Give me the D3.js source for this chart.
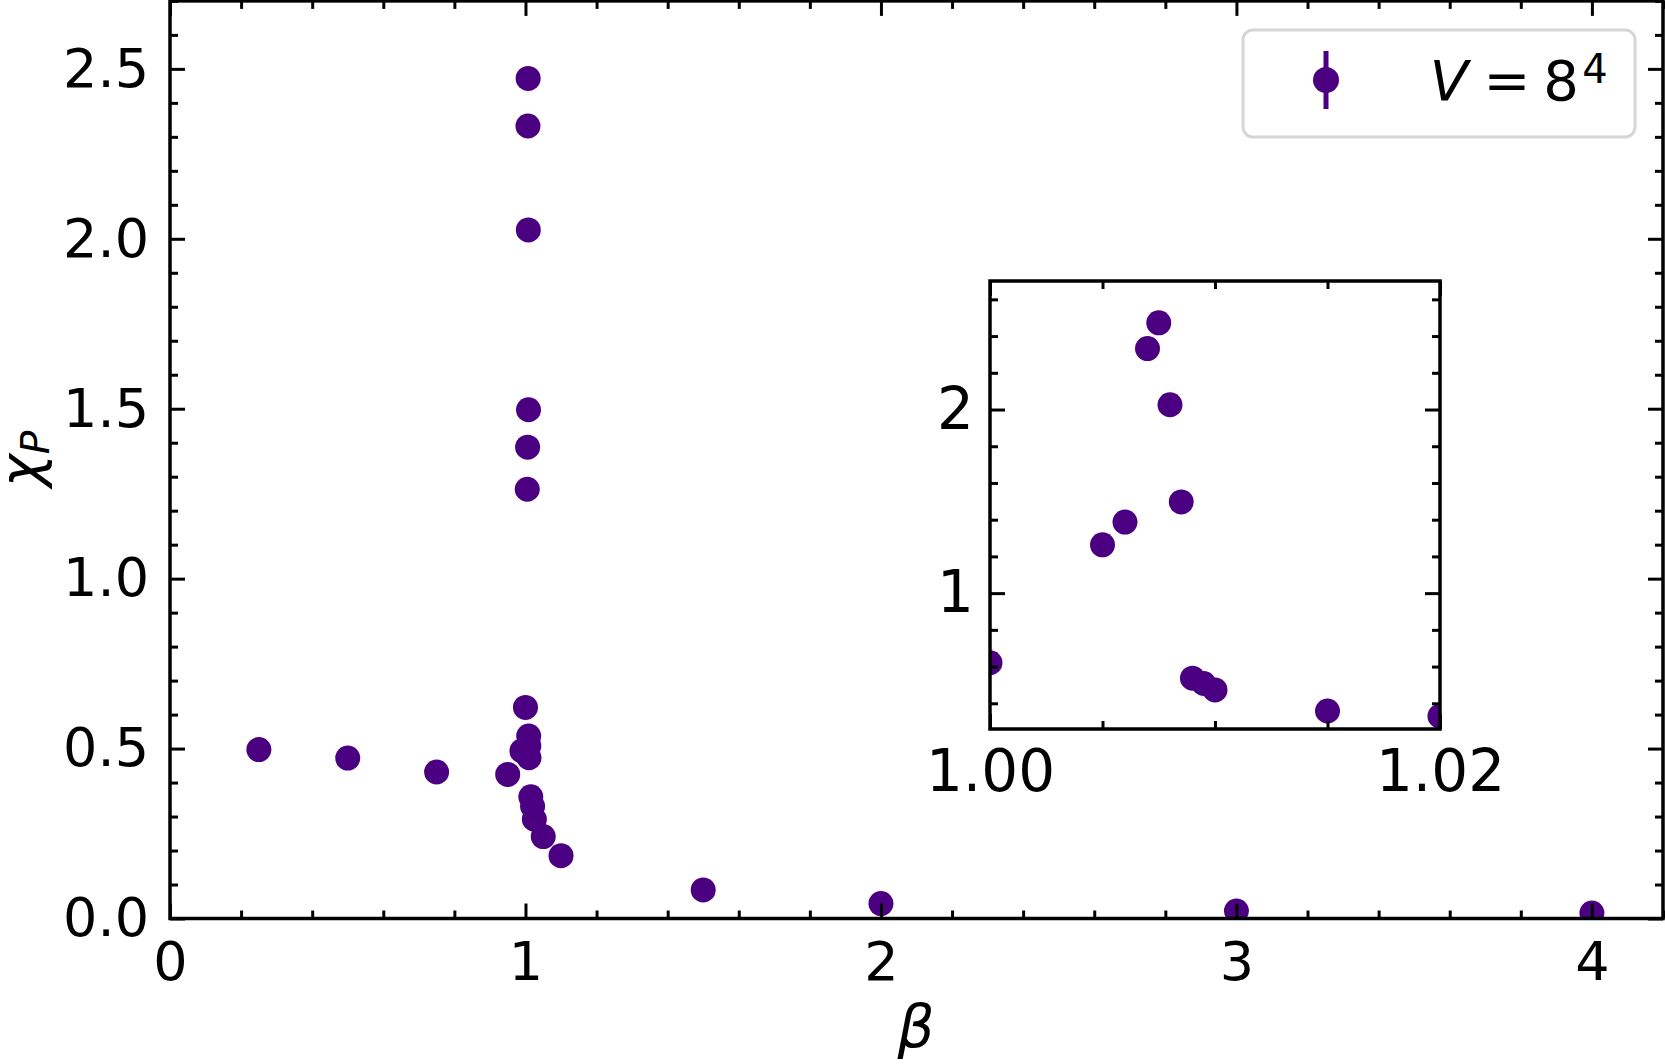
<!DOCTYPE html>
<html>
<head>
<meta charset="utf-8">
<script src="https://cdn.jsdelivr.net/npm/d3@7"></script>
<style>
  html, body { margin: 0; padding: 0; background: #fff; }
  svg { display: block; font-family: "DejaVu Sans", sans-serif; }
  .tick text { font-family: "DejaVu Sans", sans-serif; fill: #000; }
</style>
</head>
<body>
<div id="chart"></div>
<script>
// measured values, V = 8^4
const beta = [0.25, 0.5, 0.75, 0.95, 0.99, 1.00, 1.005, 1.006, 1.007, 1.0075, 1.008, 1.0085,
  1.009, 1.0095, 1.01, 1.015, 1.02, 1.025, 1.05, 1.10, 1.5, 2.0, 3.0, 4.0];
const chiP = [0.497, 0.472, 0.431, 0.424, 0.493, 0.621, 1.263, 1.387, 2.332, 2.472, 2.026, 1.497,
  0.537, 0.508, 0.473, 0.358, 0.330, 0.292, 0.241, 0.185, 0.084, 0.044, 0.022, 0.016];

const xTicks = [0, 1, 2, 3, 4];
const yTicks = [0, 0.5, 1.0, 1.5, 2.0, 2.5];
const yTickLabels = ["0.0", "0.5", "1.0", "1.5", "2.0", "2.5"];
const insetXTicks = [1.00, 1.02];
const insetXTickLabels = ["1.00", "1.02"];
const insetYTicks = [1, 2];

const color = "#4b0082";
const W = 1665, H = 1064;

const data = beta.map((b, i) => ({ beta: b, chi: chiP[i] }));

const svg = d3.select("#chart").append("svg")
  .attr("width", W).attr("height", H);

// main axes
const x = d3.scaleLinear().domain([0, 4.2]).range([170, 1663]);
const y = d3.scaleLinear().domain([0, 2.7]).range([918.5, 0.9]);

function minorOf(lo, hi, start, step, majors) {
  return d3.range(start, hi + step / 2, step)
    .map(v => +v.toFixed(6))
    .filter(v => v >= lo - 1e-9 && v <= hi + 1e-9)
    .filter(v => !majors.some(m => Math.abs(m - v) < 1e-9));
}

function drawFrame(g, xs, ys, opt) {
  const [x0, x1] = xs.range();
  const [y0, y1] = ys.range();
  const [xd0, xd1] = xs.domain();
  const [yd0, yd1] = ys.domain();
  const xMinor = minorOf(xd0, xd1, xd0, opt.xMinorStep, opt.xMajor);
  const yMinor = minorOf(yd0, yd1, opt.yMinorStart, opt.yMinorStep, opt.yMajor);

  const put = (axis, tx, ty) => {
    const a = g.append("g").attr("transform", `translate(${tx},${ty})`).call(axis);
    a.select(".domain").remove();
    a.selectAll("line").attr("stroke", "#000").attr("stroke-width", 3);
    a.selectAll("text").attr("font-size", opt.font);
    return a;
  };

  // major ticks with labels
  put(d3.axisBottom(xs).tickValues(opt.xMajor).tickFormat((d, i) => opt.xLabels[i])
    .tickSizeInner(-15).tickPadding(opt.xPad), 0, y0);
  put(d3.axisLeft(ys).tickValues(opt.yMajor).tickFormat((d, i) => opt.yLabels[i])
    .tickSizeInner(-15).tickPadding(opt.yPad), x0, 0);
  put(d3.axisTop(xs).tickValues(opt.xMajor).tickFormat("").tickSizeInner(-15), 0, y1);
  put(d3.axisRight(ys).tickValues(opt.yMajor).tickFormat("").tickSizeInner(-15), x1, 0);

  // minor ticks
  put(d3.axisBottom(xs).tickValues(xMinor).tickFormat("").tickSizeInner(-8), 0, y0);
  put(d3.axisTop(xs).tickValues(xMinor).tickFormat("").tickSizeInner(-8), 0, y1);
  put(d3.axisLeft(ys).tickValues(yMinor).tickFormat("").tickSizeInner(-8), x0, 0);
  put(d3.axisRight(ys).tickValues(yMinor).tickFormat("").tickSizeInner(-8), x1, 0);

  g.append("rect")
    .attr("x", x0).attr("y", y1)
    .attr("width", x1 - x0).attr("height", y0 - y1)
    .attr("fill", "none").attr("stroke", "#000").attr("stroke-width", 3.5);
}

function drawPoints(g, xs, ys, clipId, rows) {
  const [x0, x1] = xs.range();
  const [y0, y1] = ys.range();
  svg.append("clipPath").attr("id", clipId)
    .append("rect").attr("x", x0).attr("y", y1).attr("width", x1 - x0).attr("height", y0 - y1);
  g.append("g").attr("clip-path", `url(#${clipId})`)
    .selectAll("circle").data(rows).join("circle")
    .attr("cx", d => xs(d.beta))
    .attr("cy", d => ys(d.chi))
    .attr("r", 12.5)
    .attr("fill", color);
}

const main = svg.append("g");
drawPoints(main, x, y, "clipMain", data);
drawFrame(main, x, y, {
  xMajor: xTicks, xLabels: xTicks.map(String), xMinorStep: 0.2, xPad: 23,
  yMajor: yTicks, yLabels: yTickLabels, yMinorStep: 0.1, yMinorStart: 0, yPad: 21,
  font: 54
});

// axis labels
svg.append("text")
  .attr("x", 916).attr("y", 1047)
  .attr("text-anchor", "middle")
  .attr("font-size", 58).attr("font-style", "italic")
  .text("β");

const yl = svg.append("text")
  .attr("transform", `translate(40,459) rotate(-90)`)
  .attr("text-anchor", "middle")
  .attr("font-size", 56);
yl.append("tspan").attr("font-style", "italic").text("χ");
yl.append("tspan").attr("font-style", "italic").attr("font-size", 39).attr("dy", 9).text("P");

// inset
const xi = d3.scaleLinear().domain([1.00, 1.02]).range([990, 1440]);
const yi = d3.scaleLinear().domain([0.26, 2.70]).range([729, 281]);
const inset = svg.append("g");
inset.append("rect").attr("x", 990).attr("y", 281).attr("width", 450).attr("height", 448).attr("fill", "#fff");
drawPoints(inset, xi, yi, "clipInset", data.filter(d => d.beta >= 0.998 && d.beta <= 1.022));
drawFrame(inset, xi, yi, {
  xMajor: insetXTicks, xLabels: insetXTickLabels, xMinorStep: 0.005, xPad: 21,
  yMajor: insetYTicks, yLabels: insetYTicks.map(String), yMinorStep: 0.2, yMinorStart: 0.4, yPad: 16,
  font: 58
});

// legend
const leg = svg.append("g");
leg.append("rect")
  .attr("x", 1243).attr("y", 30).attr("width", 392).attr("height", 107)
  .attr("rx", 10).attr("fill", "#fff").attr("fill-opacity", 0.8)
  .attr("stroke", "#d6d6d6").attr("stroke-width", 3);
leg.append("line")
  .attr("x1", 1326).attr("x2", 1326).attr("y1", 51).attr("y2", 109)
  .attr("stroke", color).attr("stroke-width", 5);
leg.append("circle").attr("cx", 1326).attr("cy", 80).attr("r", 13).attr("fill", color);

const legParts = [
  { t: "V", cx: 1449, size: 56, dy: 0, italic: true },
  { t: "=", cx: 1507, size: 56, dy: 0, italic: false },
  { t: "8", cx: 1561, size: 56, dy: 0, italic: false },
  { t: "4", cx: 1595, size: 40, dy: -17, italic: false }
];
leg.selectAll("text.leg").data(legParts).join("text")
  .attr("class", "leg")
  .attr("x", d => d.cx).attr("y", d => 100 + d.dy)
  .attr("text-anchor", "middle")
  .attr("font-size", d => d.size)
  .attr("font-style", d => d.italic ? "italic" : "normal")
  .text(d => d.t);
</script>
</body>
</html>
